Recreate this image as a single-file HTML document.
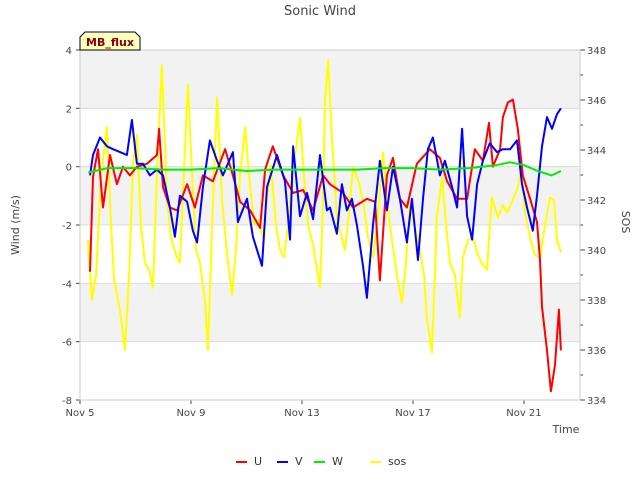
<!DOCTYPE html>
<html><head><meta charset="utf-8"><style>
body{margin:0;background:#fff;font-family:"Liberation Sans","DejaVu Sans",sans-serif;}
svg text{font-family:"DejaVu Sans","Liberation Sans",sans-serif;}
</style></head><body>
<svg id="chart" width="640" height="480" xmlns="http://www.w3.org/2000/svg">
<rect x="0" y="0" width="640" height="480" fill="#fff"/>
<g id="bands"></g>
<g id="axes"></g>
<g id="series"></g>
<text x="320" y="15" text-anchor="middle" font-size="13" fill="#444">Sonic Wind</text>
<text transform="translate(19,225) rotate(-90)" text-anchor="middle" font-size="11" fill="#444">Wind (m/s)</text>
<text transform="translate(622,222) rotate(90)" text-anchor="middle" font-size="11" fill="#444">SOS</text>
<text x="566" y="433" text-anchor="middle" font-size="11" fill="#444">Time</text>
<g>
<path d="M80,50 L80,37 L85,32 L135,32 L140,37 L140,50 Z" fill="#ffffc0" stroke="#000" stroke-width="1"/>
<text x="110" y="46" text-anchor="middle" font-size="11" font-weight="bold" fill="#8b0000">MB_flux</text>
</g>
<g id="legend"></g>
</svg>
<script>
const xTickDays=[5,9,13,17,21];
const xTickLabels=["Nov 5","Nov 9","Nov 13","Nov 17","Nov 21"];
const yTicks=[4,2,0,-2,-4,-6,-8];
const y2Ticks=[348,346,344,342,340,338,336,334];
const uDays=[5.36,5.47,5.65,5.83,6.08,6.33,6.55,6.80,7.05,7.41,7.77,7.85,7.99,8.24,8.50,8.86,9.14,9.43,9.79,10.23,10.51,10.77,11.13,11.49,11.67,11.95,12.32,12.68,13.04,13.40,13.76,14.01,14.48,14.84,15.34,15.63,15.81,16.06,16.28,16.53,16.78,17.14,17.61,17.97,18.23,18.59,18.95,19.23,19.52,19.74,19.88,20.14,20.24,20.42,20.60,20.78,20.96,21.22,21.47,21.58,21.65,21.83,21.97,22.12,22.26,22.33];
const uVals=[-3.6,-0.35,0.6,-1.4,0.4,-0.6,0,-0.3,0,0.1,0.4,1.3,-0.7,-1.4,-1.5,-0.6,-1.4,-0.3,-0.5,0.6,-0.3,-1.2,-1.5,-2.1,-0.1,0.7,-0.3,-0.9,-0.8,-1.5,-0.3,-0.6,-0.9,-1.4,-1.1,-1.2,-3.9,-0.3,0.3,-1.1,-1.4,0.1,0.6,0.3,-0.5,-1.1,-1.1,0.6,0.2,1.5,0,0.6,1.7,2.2,2.3,1.3,-0.3,-1.1,-1.9,-3.2,-4.8,-6.3,-7.7,-6.8,-4.9,-6.3];
const vDays=[5.36,5.47,5.72,5.97,6.19,6.44,6.69,6.87,7.05,7.27,7.52,7.77,7.99,8.24,8.42,8.60,8.86,9.07,9.22,9.43,9.68,9.94,10.15,10.51,10.69,11.02,11.23,11.56,11.74,12.10,12.39,12.57,12.68,12.93,13.18,13.40,13.65,13.90,14.01,14.26,14.44,14.62,14.80,14.98,15.20,15.34,15.56,15.81,16.06,16.28,16.53,16.78,16.96,17.18,17.36,17.54,17.72,17.97,18.15,18.41,18.59,18.77,18.95,19.13,19.31,19.52,19.77,20.03,20.24,20.50,20.75,20.93,21.11,21.32,21.47,21.65,21.83,22.01,22.19,22.33];
const vVals=[-0.3,0.4,1.0,0.7,0.6,0.5,0.4,1.6,0.1,0.1,-0.3,-0.1,-0.3,-1.4,-2.4,-1.0,-1.2,-2.2,-2.6,-0.7,0.9,0.2,-0.3,0.5,-1.9,-1.1,-2.4,-3.4,-0.7,0.4,-0.5,-2.5,0.7,-1.7,-0.9,-1.8,0.4,-1.5,-1.4,-2.3,-0.6,-1.5,-1.1,-2.0,-3.4,-4.5,-2.0,0.2,-1.5,0,-1.1,-2.6,-1.1,-3.2,-1.1,0.6,1.0,-0.3,0.2,-0.7,-1.4,1.3,-1.7,-2.5,-0.6,0.2,0.8,0.5,0.6,0.6,0.9,-0.6,-1.4,-2.2,-1.0,0.7,1.7,1.3,1.8,2.0];
const wDays=[5.3,6,7,8,9,10,11,12,13,14,15,16,17,18,19,20,20.5,21,21.5,22,22.33];
const wVals=[-0.2,-0.05,-0.05,-0.1,-0.1,-0.05,-0.15,-0.1,-0.1,-0.1,-0.1,-0.05,-0.05,-0.1,-0.05,0.05,0.15,0.05,-0.15,-0.3,-0.15];
const sosDays=[5.29,5.43,5.58,5.76,5.97,6.12,6.23,6.44,6.62,6.77,6.91,7.05,7.20,7.34,7.49,7.63,7.77,7.95,8.14,8.28,8.46,8.60,8.78,8.89,9.04,9.18,9.32,9.50,9.61,9.76,9.94,10.12,10.30,10.48,10.62,10.77,10.95,11.09,11.27,11.45,11.59,11.74,11.88,12.06,12.21,12.35,12.50,12.64,12.78,12.93,13.07,13.22,13.40,13.50,13.65,13.76,13.83,13.94,14.08,14.26,14.41,14.55,14.69,14.84,15.02,15.20,15.38,15.56,15.74,15.92,16.06,16.24,16.42,16.60,16.75,16.89,17.07,17.25,17.40,17.50,17.68,17.79,17.86,18.05,18.19,18.33,18.51,18.69,18.80,18.98,19.16,19.34,19.52,19.67,19.77,19.85,20.06,20.24,20.39,20.60,20.78,20.89,21.04,21.22,21.40,21.58,21.76,21.94,22.08,22.19,22.33];
const sosVals=[340.4,338,339,343,344.9,341,338.8,337.6,336,339,343.5,344.6,341,339.5,339.2,338.5,343,347.4,342,340.5,339.8,339.5,344,346.6,343,340,339.5,338,336,341,346.1,342,339.8,338.2,340,343,344.9,343,341,341.2,340.5,342,343.4,341,340,339.7,341,343,344,345.3,343,341,340.2,339.5,338.5,342,346,347.6,344.5,341.3,340.6,340,341.5,343.3,342.8,342,340.5,339.7,341.5,343.9,342,340.4,339,337.9,339.5,341.9,341,340,339,337.3,335.9,339,341.3,342.9,341,339.5,339,337.3,339.7,340.4,340.5,339.8,339.4,339.2,341,342.1,341.3,341.8,341.5,342,342.5,343.2,341.5,340.5,339.8,339.7,341,342.1,342,340.4,339.9];

const X0=80,X1=580,Y0=50,Y1=400;
const xS=d=>X0+(d-5)*((X1-X0)/18.02);
const yS=v=>Y0+(4-v)*((Y1-Y0)/12);
const y2S=v=>Y0+(348-v)*((Y1-Y0)/14);
const NS="http://www.w3.org/2000/svg";
function mk(tag,attrs,parent){const e=document.createElementNS(NS,tag);for(const k in attrs)e.setAttribute(k,attrs[k]);parent.appendChild(e);return e;}
const bands=document.getElementById('bands'),axes=document.getElementById('axes'),series=document.getElementById('series');
for(let i=0;i<yTicks.length-1;i++){
  const r=mk('rect',{x:X0,y:yS(yTicks[i]),width:X1-X0,height:yS(yTicks[i+1])-yS(yTicks[i]),fill:i%2===0?'#f2f2f2':'#ffffff'},bands);
  
  
}
yTicks.forEach(v=>{
  mk('line',{x1:X0,x2:X1,y1:yS(v),y2:yS(v),stroke:'#dcdcdc','stroke-width':1},axes);
  mk('line',{x1:X0-4,x2:X0,y1:yS(v),y2:yS(v),stroke:'#444'},axes);
  const t=mk('text',{x:X0-8,y:yS(v)+4,'text-anchor':'end','font-size':10,fill:'#444'},axes);t.textContent=v;
  
  
});
y2Ticks.forEach(v=>{
  mk('line',{x1:X1,x2:X1+5,y1:y2S(v),y2:y2S(v),stroke:'#444'},axes);
  if(v>334)mk('line',{x1:X1,x2:X1+3,y1:y2S(v-1),y2:y2S(v-1),stroke:'#444'},axes);
  const t=mk('text',{x:X1+7,y:y2S(v)+4,'font-size':10,fill:'#444'},axes);t.textContent=v;
  
  
});
xTickDays.forEach((d,i)=>{
  mk('line',{x1:xS(d),x2:xS(d),y1:Y1,y2:Y1+4,stroke:'#444'},axes);
  const t=mk('text',{x:xS(d),y:Y1+16,'text-anchor':'middle','font-size':10,fill:'#444'},axes);t.textContent=xTickLabels[i];
  
  
});
mk('rect',{x:X0,y:Y0,width:X1-X0,height:Y1-Y0,fill:'none',stroke:'#ccc'},axes);
function line(days,vals,ys,color,name){
  const n=Math.min(days.length,vals.length);let p='';
  for(let i=0;i<n;i++)p+=(i?'L':'M')+xS(days[i]).toFixed(1)+','+ys(vals[i]).toFixed(1);
  const e=mk('path',{d:p,fill:'none',stroke:color,'stroke-width':2,'stroke-linejoin':'round'},series);
  
  
}
line(sosDays,sosVals,y2S,'#ffff00','sos-line');
line(uDays,uVals,yS,'#ff0000','u-line');
line(vDays,vVals,yS,'#0000ff','v-line');
line(wDays,wVals,yS,'#00ee00','w-line');
const legend=document.getElementById('legend');
const legNames=['U','V','W','sos'],legColors=['#ff0000','#0000ff','#00ee00','#ffff00'],legX=[236,277,314,370];
legNames.forEach((n,i)=>{
  const g=mk('g',{},legend);
  
  
  mk('line',{x1:legX[i],x2:legX[i]+11,y1:462,y2:462,stroke:legColors[i],'stroke-width':2},g);
  const t=mk('text',{x:legX[i]+18,y:465,'font-size':11,fill:'#333'},g);t.textContent=n;
});
</script>
</body></html>
